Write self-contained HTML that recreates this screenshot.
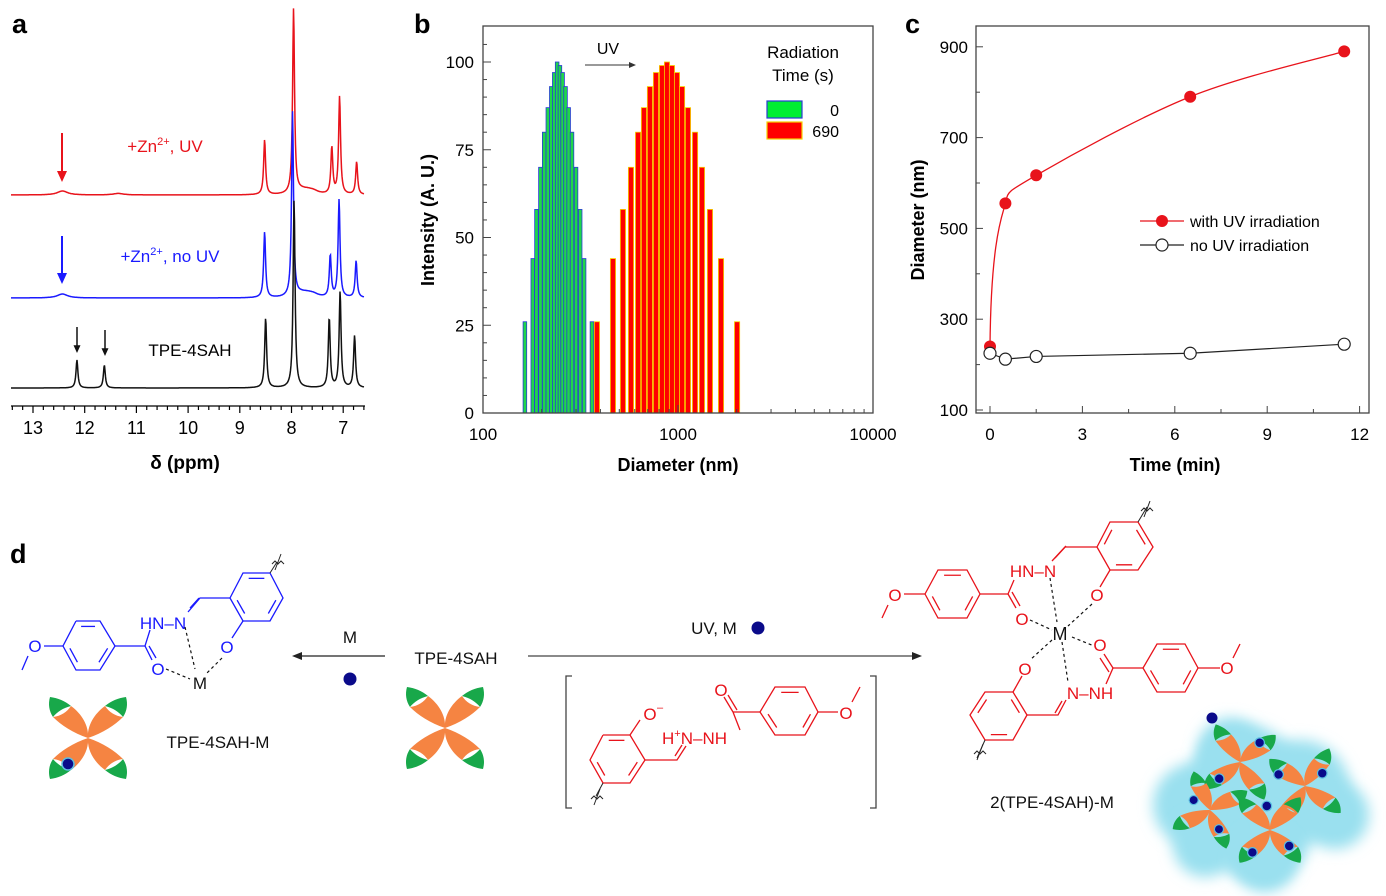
<!DOCTYPE html>
<html><head><meta charset="utf-8"><style>
html,body{margin:0;padding:0;background:#fff;}
svg{display:block;font-family:"Liberation Sans",Arial,sans-serif;}
</style></head><body>
<svg id="fig" width="1386" height="896" viewBox="0 0 1386 896">
<g id="pa"></g>
<g id="pb"></g>
<g id="pc"></g>
<g id="pd"></g>
</svg>
<script>
// ---------- Panel a data ----------
const nmrPpmTicks=[13,12,11,10,9,8,7];
const blackPeakPpm=[12.15,11.62,8.5,7.95,7.27,7.06,6.78];
const blackPeakH=[28,23,70,188,70,96,52];
const bluePeakPpm=[12.43,8.52,7.98,7.82,7.7,7.58,7.25,7.08,6.75];
const bluePeakH=[4,66,185,3,3,3,42,98,37];
const redPeakPpm=[12.43,11.35,8.52,7.96,7.82,7.7,7.58,7.22,7.07,6.74];
const redPeakH=[4,1.5,55,185,3,3,3,47,98,33];
// ---------- Panel b data ----------
const greenDiam=[164,180,188,197,206,215,224,232,240,248,256,265,275,286,300,315,330,362];
const greenInt=[26,44,58,70,80,87,93,97,100,99,97,93,87,80,70,58,44,26];
const redDiam=[384,464,522,574,624,669,718,771,828,878,931,988,1049,1125,1223,1327,1459,1662,2009];
const redInt=[26,44,58,70,80,87,93,97,99,100,99,97,93,87,80,70,58,44,26];
const dlsYTicks=[0,25,50,75,100];
const dlsXTicks=[100,1000,10000];
// ---------- Panel c data ----------
const timeMin=[0,0.5,1.5,6.5,11.5];
const diamUV=[240,555,617,790,890];
const diamNoUV=[225,212,218,225,245];
const cXTicks=[0,3,6,9,12];
const cYTicks=[100,300,500,700,900];

const NS='http://www.w3.org/2000/svg';
function mk(parent,tag,attrs,txt){const e=document.createElementNS(NS,tag);for(const k in attrs)e.setAttribute(k,attrs[k]);if(txt!==undefined)e.textContent=txt;parent.appendChild(e);return e;}

// ===== Panel A =====
const pa=document.getElementById('pa');
const ax=p=>33+(13-p)*51.7;
let t=mk(pa,'text',{x:12,y:33,'font-size':27,'font-weight':'bold'},'a');


function spectrum(ppms,hs,base,color,name){
  let d='';
  for(let x=11;x<=364;x+=0.5){
    const p=13-(x-33)/51.7;let y=0;
    for(let i=0;i<ppms.length;i++){const g=hs[i]<6?0.12:0.022;const dd=(p-ppms[i])/g;y+=hs[i]/(1+dd*dd);}
    d+=(d?'L':'M')+x.toFixed(1)+','+(base-y).toFixed(1);
  }
  const e=mk(pa,'path',{d:d,fill:'none',stroke:color,'stroke-width':1.5});
  
  
}
spectrum(redPeakPpm,redPeakH,195,'#e8131b','spectrum-zn-uv');
spectrum(bluePeakPpm,bluePeakH,298,'#1a1aff','spectrum-zn-no-uv');
spectrum(blackPeakPpm,blackPeakH,388,'#111','spectrum-tpe-4sah');
let axl=mk(pa,'line',{x1:11,x2:365,y1:406,y2:406,stroke:'#000','stroke-width':1.3});


for(let p=13.4;p>=6.6;p-=0.2){const q=Math.round(p*10)/10;const maj=Math.abs(q-Math.round(q))<0.01;
  mk(pa,'line',{x1:ax(q),x2:ax(q),y1:406,y2:maj?413:410,stroke:'#000','stroke-width':1.2});}
nmrPpmTicks.forEach(v=>{const e=mk(pa,'text',{x:ax(v),y:434,'font-size':18,'text-anchor':'middle'},String(v));
  
  });
t=mk(pa,'text',{x:185,y:469,'font-size':19,'font-weight':'bold','text-anchor':'middle'},'δ (ppm)');


function arrow(g,x,y1,y2,c,w,hw){mk(g,'line',{x1:x,x2:x,y1:y1,y2:y2-hw*1.8,stroke:c,'stroke-width':w});mk(g,'path',{d:`M${x-hw},${y2-hw*2.2}L${x+hw},${y2-hw*2.2}L${x},${y2}Z`,fill:c});}
arrow(pa,62,133,182,'#e8131b',2,5);arrow(pa,62,236,284,'#1a1aff',2,5);
arrow(pa,77,327,353,'#111',1.5,3.5);arrow(pa,105,330,356,'#111',1.5,3.5);
t=mk(pa,'text',{x:165,y:152,'font-size':17,fill:'#e8131b','text-anchor':'middle'});t.innerHTML='+Zn<tspan dy="-7" font-size="11">2+</tspan><tspan dy="7">, UV</tspan>';


t=mk(pa,'text',{x:170,y:262,'font-size':17,fill:'#1a1aff','text-anchor':'middle'});t.innerHTML='+Zn<tspan dy="-7" font-size="11">2+</tspan><tspan dy="7">, no UV</tspan>';


t=mk(pa,'text',{x:190,y:356,'font-size':17,'text-anchor':'middle'},'TPE-4SAH');



// ===== Panel B =====
const pb=document.getElementById('pb');
const bx=d=>483+Math.log10(d/100)*195, by=v=>413-v*3.51;
t=mk(pb,'text',{x:414,y:33,'font-size':27,'font-weight':'bold'},'b');


greenDiam.forEach((d,i)=>{const e=mk(pb,'rect',{x:bx(d)-1.8,y:by(greenInt[i]),width:3.6,height:greenInt[i]*3.51,fill:'#1fd64a',stroke:'#2b3bd6','stroke-width':0.8});
  
  });
redDiam.forEach((d,i)=>{const e=mk(pb,'rect',{x:bx(d)-2.6,y:by(redInt[i]),width:5.2,height:redInt[i]*3.51,fill:'#ff0000',stroke:'#f5d200','stroke-width':0.8});
  
  });
let fr=mk(pb,'rect',{x:483,y:26,width:390,height:387,fill:'none',stroke:'#444','stroke-width':1.3});


for(let v=0;v<=105;v+=5){mk(pb,'line',{x1:483,x2:v%25==0?491:487,y1:by(v),y2:by(v),stroke:'#444','stroke-width':1});}
dlsYTicks.forEach(v=>{const e=mk(pb,'text',{x:474,y:by(v)+6,'font-size':17,'text-anchor':'end'},String(v));
  
  });
for(let dec=100;dec<10000;dec*=10)for(let k=1;k<=10;k++){const x=bx(dec*k);mk(pb,'line',{x1:x,x2:x,y1:413,y2:k==1||k==10?405:409,stroke:'#444','stroke-width':1});}
dlsXTicks.forEach(v=>{const e=mk(pb,'text',{x:bx(v),y:440,'font-size':17,'text-anchor':'middle'},String(v));
  
  });
t=mk(pb,'text',{x:678,y:471,'font-size':18,'font-weight':'bold','text-anchor':'middle'},'Diameter (nm)');


t=mk(pb,'text',{x:0,y:0,'font-size':18,'font-weight':'bold','text-anchor':'middle',transform:'translate(434,220) rotate(-90)'},'Intensity (A. U.)');


t=mk(pb,'text',{x:608,y:54,'font-size':16,'text-anchor':'middle'},'UV');


mk(pb,'line',{x1:585,x2:632,y1:65,y2:65,stroke:'#333','stroke-width':1});mk(pb,'path',{d:'M636,65L629,62L629,68Z',fill:'#333'});
t=mk(pb,'text',{x:803,y:58,'font-size':17,'text-anchor':'middle'},'Radiation');


mk(pb,'text',{x:803,y:81,'font-size':17,'text-anchor':'middle'},'Time (s)');
let lg=mk(pb,'rect',{x:767,y:101,width:35,height:17,fill:'#00ee33',stroke:'#2b3bd6','stroke-width':1.2});


lg=mk(pb,'rect',{x:767,y:122,width:35,height:17,fill:'#ff0000',stroke:'#f5d200','stroke-width':1.2});


mk(pb,'text',{x:839,y:116,'font-size':16,'text-anchor':'end'},'0');
mk(pb,'text',{x:839,y:137,'font-size':16,'text-anchor':'end'},'690');

// ===== Panel C =====
const pc=document.getElementById('pc');
const cx=v=>990+v*30.8, cy=v=>410-(v-100)*0.454;
t=mk(pc,'text',{x:905,y:33,'font-size':27,'font-weight':'bold'},'c');


fr=mk(pc,'rect',{x:976,y:26,width:393,height:387,fill:'none',stroke:'#444','stroke-width':1.3});


cXTicks.forEach(v=>{mk(pc,'line',{x1:cx(v),x2:cx(v),y1:413,y2:406,stroke:'#444'});
  const e=mk(pc,'text',{x:cx(v),y:440,'font-size':17,'text-anchor':'middle'},String(v));
  
  });
for(let v=1.5;v<12;v+=3)mk(pc,'line',{x1:cx(v),x2:cx(v),y1:413,y2:409,stroke:'#444'});
cYTicks.forEach(v=>{mk(pc,'line',{x1:976,x2:983,y1:cy(v),y2:cy(v),stroke:'#444'});
  const e=mk(pc,'text',{x:968,y:cy(v)+6,'font-size':17,'text-anchor':'end'},String(v));
  
  });
for(let v=200;v<900;v+=200)mk(pc,'line',{x1:976,x2:980,y1:cy(v),y2:cy(v),stroke:'#444'});
t=mk(pc,'text',{x:1175,y:471,'font-size':18,'font-weight':'bold','text-anchor':'middle'},'Time (min)');


t=mk(pc,'text',{x:0,y:0,'font-size':18,'font-weight':'bold','text-anchor':'middle',transform:'translate(924,220) rotate(-90)'},'Diameter (nm)');


function smooth(xs,ys){const P=xs.map((x,i)=>[cx(x),cy(ys[i])]);let d=`M${P[0][0]},${P[0][1]}`;
  for(let i=0;i<P.length-1;i++){const p0=P[Math.max(0,i-1)],p1=P[i],p2=P[i+1],p3=P[Math.min(P.length-1,i+2)];
    let c1=[p1[0]+(p2[0]-p0[0])/6,p1[1]+(p2[1]-p0[1])/6],c2=[p2[0]-(p3[0]-p1[0])/6,p2[1]-(p3[1]-p1[1])/6];
    if(i==0){c1=[p1[0]+1,p1[1]-(p1[1]-p2[1])*0.75];c2=[p2[0]-3,p2[1]+12];}
    if(i==1){c1=[p1[0]+3,p1[1]-12];}
    d+=`C${c1[0]},${c1[1]} ${c2[0]},${c2[1]} ${p2[0]},${p2[1]}`;}return d;}
let ln=mk(pc,'path',{d:smooth(timeMin,diamUV),fill:'none',stroke:'#e8131b','stroke-width':1.3});


ln=mk(pc,'polyline',{points:timeMin.map((x,i)=>cx(x)+','+cy(diamNoUV[i])).join(' '),fill:'none',stroke:'#222','stroke-width':1.2});


timeMin.forEach((x,i)=>{let e=mk(pc,'circle',{cx:cx(x),cy:cy(diamUV[i]),r:6,fill:'#e8131b'});
  
  
  e=mk(pc,'circle',{cx:cx(x),cy:cy(diamNoUV[i]),r:6,fill:'#fff',stroke:'#222','stroke-width':1.2});
  
  });
mk(pc,'line',{x1:1140,x2:1184,y1:221,y2:221,stroke:'#e8131b','stroke-width':1.3});mk(pc,'circle',{cx:1162,cy:221,r:6,fill:'#e8131b'});
t=mk(pc,'text',{x:1190,y:227,'font-size':16},'with UV irradiation');


mk(pc,'line',{x1:1140,x2:1184,y1:245,y2:245,stroke:'#222','stroke-width':1.2});mk(pc,'circle',{cx:1162,cy:245,r:6,fill:'#fff',stroke:'#222','stroke-width':1.2});
t=mk(pc,'text',{x:1190,y:251,'font-size':16},'no UV irradiation');



// ===== Panel D =====
const pd=document.getElementById('pd');
t=mk(pd,'text',{x:10,y:563,'font-size':27,'font-weight':'bold'},'d');


function L(pts,c,w,dash){mk(pd,'polyline',{points:pts.map(p=>p.join(',')).join(' '),fill:'none',stroke:c,'stroke-width':w||1.3,'stroke-dasharray':dash||'none'});}
function T(x,y,s,c,fs,anchor){return mk(pd,'text',{x:x,y:y,'font-size':fs||16,fill:c,'text-anchor':anchor||'middle'},s);}
function ring(v,c,inner){L(v.concat([v[0]]),c);const cxm=v.reduce((a,p)=>a+p[0],0)/6,cym=v.reduce((a,p)=>a+p[1],0)/6;
  inner.forEach(i=>{const a=v[i],b=v[(i+1)%6];const s=0.78;L([[cxm+(a[0]-cxm)*s+(b[0]-a[0])*0.1,cym+(a[1]-cym)*s+(b[1]-a[1])*0.1],[cxm+(b[0]-cxm)*s-(b[0]-a[0])*0.1,cym+(b[1]-cym)*s-(b[1]-a[1])*0.1]],c);});}
function wavy(x,y){L([[x-6,y+2],[x-3,y-1],[x,y+2],[x+3,y-1],[x+6,y+2]],'#222',1);L([[x-3,y+8],[x+3,y-8]],'#222',1);}
const B='#1a1aff';
ring([[76,621],[100,621],[115,646],[100,670],[76,670],[63,646]],B,[0,2,4]);
L([[63,646],[44,646]],B);T(35,652,'O',B,17);L([[28,656],[22,670]],B);
L([[115,646],[145,646],[150,630]],B);L([[145,646],[152,660]],B);L([[149,646],[156,658]],B);T(158,675,'O',B,17);
T(163,629,'HN–N',B,17);
L([[188,612],[200,598],[230,598]],B);L([[190,608],[199,598]],B);
ring([[230,598],[243,573],[270,573],[283,598],[270,621],[243,621]],B,[1,3,5]);
L([[243,621],[232,638]],B);T(227,653,'O',B,17);
wavy(278,562);L([[270,573],[277,562]],'#222',1);
T(200,689,'M','#111',17);
L([[166,669],[190,679]],'#111',1.2,'3,3');L([[185,627],[195,669]],'#111',1.2,'3,3');L([[222,658],[206,674]],'#111',1.2,'3,3');
L([[385,656],[298,656]],'#222',1.2);mk(pd,'path',{d:'M292,656L302,652L302,660Z',fill:'#222'});
T(350,643,'M','#111',17);let dot=mk(pd,'circle',{cx:350,cy:679,r:6.5,fill:'#0a0a8a'});


t=T(456,664,'TPE-4SAH','#111',17);


L([[528,656],[916,656]],'#444',1.3);mk(pd,'path',{d:'M922,656L912,652L912,660Z',fill:'#222'});
T(714,634,'UV, M','#111',17);mk(pd,'circle',{cx:758,cy:628,r:6.5,fill:'#0a0a8a'});
L([[572,676],[566,676],[566,808],[572,808]],'#444',1.3);L([[870,676],[876,676],[876,808],[870,808]],'#444',1.3);
t=T(218,748,'TPE-4SAH-M','#111',17);


const R='#e8131b';
ring([[603,735],[630,735],[645,760],[630,783],[603,783],[590,760]],R,[0,2,4]);
L([[630,735],[640,720]],R);T(650,720,'O',R,17);T(660,711,'–',R,11);
L([[645,760],[677,760],[686,746]],R);L([[675,756],[682,745]],R);
t=T(662,744,'H',R,17,'start');t.innerHTML='H<tspan dy="-7" font-size="11">+</tspan><tspan dy="7">N–NH</tspan>';
L([[733,712],[740,730]],R);L([[733,712],[760,712]],R);L([[733,712],[724,697]],R);L([[737,710],[728,695]],R);T(721,696,'O',R,17);
ring([[760,712],[775,687],[805,687],[818,712],[805,735],[775,735]],R,[1,3,5]);
L([[818,712],[838,712]],R);T(846,719,'O',R,17);L([[852,702],[860,687]],R);
wavy(597,797);L([[603,783],[596,796]],'#222',1);
ring([[925,594],[938,570],[967,570],[980,594],[967,618],[938,618]],R,[1,3,5]);
L([[925,594],[904,594]],R);T(895,601,'O',R,17);L([[888,605],[882,618]],R);
L([[980,594],[1008,594],[1014,580]],R);L([[1008,594],[1016,608]],R);L([[1012,592],[1020,606]],R);T(1022,625,'O',R,17);
T(1033,577,'HN–N',R,17);
L([[1052,561],[1065,547],[1097,547]],R);L([[1055,558],[1066,546]],R);
ring([[1097,547],[1110,522],[1138,522],[1153,547],[1138,570],[1110,570]],R,[0,2,4]);
L([[1110,570],[1100,587]],R);T(1097,601,'O',R,17);
wavy(1147,509);L([[1138,522],[1147,507]],'#222',1);
t=T(1060,640,'M','#111',18);


L([[1030,620],[1052,630]],'#111',1.2,'3,3');L([[1050,578],[1057,622]],'#111',1.2,'3,3');L([[1092,604],[1068,626]],'#111',1.2,'3,3');
L([[1072,637],[1094,646]],'#111',1.2,'3,3');L([[1052,640],[1030,660]],'#111',1.2,'3,3');L([[1062,642],[1068,682]],'#111',1.2,'3,3');
T(1100,651,'O',R,17);L([[1104,654],[1113,668]],R);L([[1100,658],[1109,672]],R);
L([[1113,668],[1143,668]],R);L([[1113,668],[1106,684]],R);
ring([[1143,668],[1157,644],[1185,644],[1198,668],[1185,692],[1157,692]],R,[1,3,5]);
L([[1198,668],[1220,668]],R);T(1227,674,'O',R,17);L([[1233,658],[1240,644]],R);
T(1090,699,'N–NH',R,17);
L([[1066,700],[1058,715],[1027,715]],R);L([[1062,701],[1055,713]],R);
ring([[1027,715],[1013,692],[985,692],[970,715],[985,740],[1013,740]],R,[0,2,4]);
L([[1013,692],[1022,676]],R);T(1025,675,'O',R,17);
wavy(980,752);L([[985,740],[977,758]],'#222',1);
t=T(1052,808,'2(TPE-4SAH)-M','#111',17);


// TPE shapes
const petal='M0,0 C-1,-12 6,-24 17,-32 C21,-26 27,-22 35,-21 C27,-13 15,-5 0,0Z';
const tip='M17,-32 C23,-37 30,-40 38,-41 C40,-34 39,-27 35,-21 C31,-26 25,-30 17,-32Z';
function tpe(x,y,s,rot,name,dots){const g=mk(pd,'g',{transform:`translate(${x},${y}) rotate(${rot}) scale(${s})`});
  
  
  [[1,1],[-1,1],[1,-1],[-1,-1]].forEach(([sx,sy])=>{const q=mk(g,'g',{transform:`scale(${sx},${sy})`});mk(q,'path',{d:petal,fill:'#f58442'});mk(q,'path',{d:tip,fill:'#18a84a'});});
  (dots||[]).forEach(([dx,dy])=>mk(g,'circle',{cx:dx,cy:dy,r:6,fill:'#0a0a8a',stroke:'#5bbde0','stroke-width':1.5}));return g;}
tpe(445,728,1.0,0,'tpe-4sah-icon');
tpe(88,738,1.0,0,'tpe-4sah-m-icon',[[-20,26]]);
const defs=mk(pd,'defs',{});const f=mk(defs,'filter',{id:'blur',x:'-30%',y:'-30%',width:'160%',height:'160%'});mk(f,'feGaussianBlur',{stdDeviation:7});
const cl=mk(pd,'g',{});


[[1245,780,55],[1300,790,50],[1195,805,42],[1260,830,52],[1230,750,32],[1335,815,34],[1205,845,32],[1265,860,32]].forEach(([x,y,r])=>mk(cl,'circle',{cx:x,cy:y,r:r,fill:'#9ae0ef',filter:'url(#blur)'}));
mk(pd,'circle',{cx:1212,cy:718,r:5.5,fill:'#0a0a8a'});
tpe(1240,762,0.8,10,'tpe-unit',[[20,-28],[-22,25]]);
tpe(1305,786,0.8,-10,'tpe-unit',[[24,-12],[-30,-20]]);
tpe(1210,810,0.75,20,'tpe-unit',[[-25,-5],[20,20]]);
tpe(1270,830,0.8,0,'tpe-unit',[[-22,28],[24,20],[-4,-30]]);
</script>
</body></html>
